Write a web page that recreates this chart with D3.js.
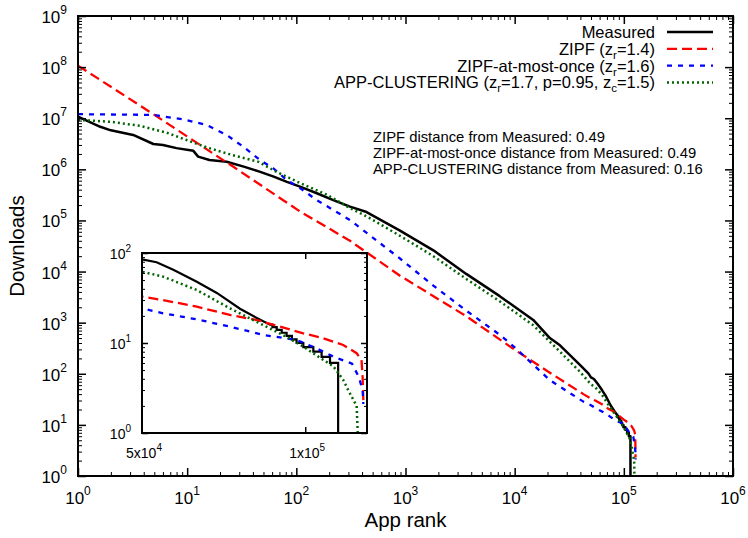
<!DOCTYPE html>
<html>
<head>
<meta charset="utf-8">
<script src="https://cdn.jsdelivr.net/npm/d3@7"></script>
<style>
  body { margin: 0; background: #fff; }
  svg text { font-family: "Liberation Sans", Arial, Helvetica, sans-serif; fill: #000; }
</style>
</head>
<body>
<svg id="chart" width="748" height="538"></svg>
<script>
// ---- data: [app rank, downloads] ----
const measured = [
  [1, 1.08e7], [1.6, 6.8e6], [2, 5.8e6], [3.2, 4.7e6], [4.9, 3.13e6], [6, 3.0e6],
  [8, 2.6e6], [11.4, 2.3e6], [12.6, 1.77e6], [16, 1.52e6], [23, 1.41e6], [33, 1.13e6],
  [46, 9.0e5], [62, 7.2e5], [82, 5.7e5], [108, 4.6e5], [154, 3.4e5], [218, 2.5e5],
  [310, 1.86e5], [440, 1.46e5], [890, 6.3e4], [1800, 2.6e4], [3600, 9.0e3], [7300, 3.3e3],
  [14800, 1130], [21000, 500], [26000, 360], [39600, 149], [47300, 102], [50000, 85],
  [53200, 79], [57100, 65], [63100, 48], [68700, 36], [75800, 24], [81400, 19], [86100, 16],
  [87000, 16], [87000, 15], [88600, 15], [88600, 14], [90500, 14], [90500, 13],
  [92400, 13], [92400, 12], [94500, 12], [94500, 11], [96400, 11], [96400, 10],
  [99200, 10], [99200, 9], [103500, 9], [103500, 8], [107200, 8], [107200, 7],
  [111100, 7], [111100, 6], [115000, 6], [115000, 1]
];
const zipf = [
  [1, 1.07e8], [4.9, 1.2e7], [26.5, 1.12e6], [108, 1.5e5], [310, 4.0e4], [890, 8.3e3],
  [3630, 1.32e3], [10000, 295], [21000, 105], [42600, 40], [50000, 32.7], [54700, 30],
  [63100, 25.3], [72600, 20.5], [81400, 18], [89800, 15.2], [99200, 12.8], [108000, 11.3],
  [117500, 9.5], [124400, 7.7], [127000, 6.5], [127600, 4.2], [128000, 2.3]
];
const zipfOnce = [
  [1, 1.2e7], [4.9, 1.16e7], [9.2, 9.5e6], [15, 7.4e6], [23, 4.7e6], [32.7, 2.77e6],
  [46.5, 1.52e6], [61.5, 1.05e6], [81.6, 6.2e5], [108, 4.3e5], [154, 2.5e5], [218, 1.6e5],
  [310, 1.02e5], [441, 5.7e4], [890, 1.8e4], [1800, 5.3e3], [3630, 1.7e3], [7340, 575],
  [10000, 330], [21000, 75], [42600, 28.5], [50000, 24.3], [54700, 21.4], [63100, 18.3],
  [72600, 15.2], [83700, 12.3], [96400, 10.8], [105000, 8.7], [113000, 7.0], [122000, 5.9],
  [125500, 4.2], [127600, 3.0], [128000, 2.1]
];
const appClustering = [
  [1, 9.3e6], [2, 8.5e6], [3.7, 7.1e6], [6.5, 5.2e6], [10, 3.7e6], [15, 2.7e6],
  [26, 1.9e6], [45, 1.4e6], [66, 8.9e5], [108, 5.4e5], [190, 3.2e5], [310, 1.74e5],
  [441, 1.2e5], [890, 5.0e4], [1800, 2.0e4], [3630, 7.1e3], [7340, 2.6e3], [14800, 890],
  [21000, 425], [39600, 110], [50000, 62], [54700, 54.6], [63100, 38.8], [72600, 24.3],
  [83700, 15.8], [92400, 11.7], [99200, 9.1], [106700, 6.8], [112700, 5.5], [117500, 3.9],
  [120000, 3.0], [124400, 2.0], [125000, 1]
];

const seriesNames = ["Measured", "ZIPF", "ZIPF-at-most-once", "APP-CLUSTERING"];
const seriesParams = [null, [["z", "r", "=1.4"]], [["z", "r", "=1.6"]],
  [["z", "r", "=1.7, p=0.95, "], ["z", "c", "=1.5"]]];
const distanceNames = ["ZIPF", "ZIPF-at-most-once", "APP-CLUSTERING"];
const distanceValues = ["0.49", "0.49", "0.16"];

const xTickExps = [0, 1, 2, 3, 4, 5, 6];
const yTickExps = [0, 1, 2, 3, 4, 5, 6, 7, 8, 9];
const insetXTicks = [[5e4, "5x10", "4"], [1e5, "1x10", "5"]];
const insetYTickExps = [0, 1, 2];

// ---- styles ----
const styles = [
  { color: "#000000", dash: null, width: 2.5 },
  { color: "#ff0000", dash: "10,5", width: 2.3 },
  { color: "#0000ff", dash: "5,6", width: 2.3 },
  { color: "#006400", dash: "2,3", width: 2.5 }
];
const allSeries = [measured, zipf, zipfOnce, appClustering];

const svg = d3.select("#chart");
const box = { left: 78, right: 733, top: 16, bottom: 476 };
const ibox = { left: 142, right: 367, top: 253, bottom: 433 };

const x = d3.scaleLog().domain([1, 1e6]).range([box.left, box.right]);
const y = d3.scaleLog().domain([1, 1e9]).range([box.bottom, box.top]);
const xi = d3.scaleLog().domain([5e4, 1.3e5]).range([ibox.left, ibox.right]);
const yi = d3.scaleLog().domain([1, 100]).range([ibox.bottom, ibox.top]);

const defs = svg.append("defs");
defs.append("clipPath").attr("id", "clipMain").append("rect")
  .attr("x", box.left).attr("y", box.top)
  .attr("width", box.right - box.left).attr("height", box.bottom - box.top);
defs.append("clipPath").attr("id", "clipInset").append("rect")
  .attr("x", ibox.left).attr("y", ibox.top)
  .attr("width", ibox.right - ibox.left).attr("height", ibox.bottom - ibox.top);

function minorValues(lo, hi) {
  const out = [];
  for (let e = Math.floor(Math.log10(lo)); e < Math.ceil(Math.log10(hi)); e++) {
    for (let k = 2; k <= 9; k++) {
      const v = k * Math.pow(10, e);
      if (v > lo && v < hi) out.push(v);
    }
  }
  return out;
}

// ticks pointing into the frame on all four sides
function drawTicks(g, xs, ys, b, xMajor, xMinor, yMajor, yMinor, majLen, minLen) {
  [[xMajor, majLen, 1.5], [xMinor, minLen, 1]].forEach(([vals, len, w]) => {
    g.append("g").attr("transform", `translate(0,${b.bottom})`)
      .call(d3.axisBottom(xs).tickValues(vals).tickSize(-len).tickFormat(""))
      .call(s => s.select(".domain").remove())
      .selectAll("line").attr("stroke-width", w);
    g.append("g").attr("transform", `translate(0,${b.top})`)
      .call(d3.axisTop(xs).tickValues(vals).tickSize(-len).tickFormat(""))
      .call(s => s.select(".domain").remove())
      .selectAll("line").attr("stroke-width", w);
  });
  [[yMajor, majLen, 1.5], [yMinor, minLen, 1]].forEach(([vals, len, w]) => {
    g.append("g").attr("transform", `translate(${b.left},0)`)
      .call(d3.axisLeft(ys).tickValues(vals).tickSize(-len).tickFormat(""))
      .call(s => s.select(".domain").remove())
      .selectAll("line").attr("stroke-width", w);
    g.append("g").attr("transform", `translate(${b.right},0)`)
      .call(d3.axisRight(ys).tickValues(vals).tickSize(-len).tickFormat(""))
      .call(s => s.select(".domain").remove())
      .selectAll("line").attr("stroke-width", w);
  });
}

function powerLabel(sel, base, exp, size, supSize, supRise) {
  sel.append("tspan").attr("font-size", size).text(base);
  sel.append("tspan").attr("font-size", supSize).attr("dy", -supRise).text(exp);
}

// ---- main plot ----
const main = svg.append("g");
const linesMain = main.append("g").attr("clip-path", "url(#clipMain)");
allSeries.forEach((data, i) => {
  const st = styles[i];
  linesMain.append("path")
    .datum(data)
    .attr("fill", "none")
    .attr("stroke", st.color)
    .attr("stroke-width", st.width)
    .attr("stroke-dasharray", st.dash)
    .attr("stroke-linejoin", "round")
    .attr("d", d3.line().x(d => x(d[0])).y(d => y(d[1])));
});

drawTicks(main, x, y, box,
  xTickExps.map(e => Math.pow(10, e)), minorValues(1, 1e6),
  yTickExps.map(e => Math.pow(10, e)), minorValues(1, 1e9), 8, 4);

main.append("rect")
  .attr("x", box.left).attr("y", box.top)
  .attr("width", box.right - box.left).attr("height", box.bottom - box.top)
  .attr("fill", "none").attr("stroke", "#000").attr("stroke-width", 2);

// tick labels
main.append("g").selectAll("text").data(xTickExps).join("text")
  .attr("x", e => x(Math.pow(10, e)))
  .attr("y", box.bottom + 28)
  .attr("text-anchor", "middle")
  .each(function (e) { powerLabel(d3.select(this), "10", e, 17, 12, 9); });

main.append("g").selectAll("text").data(yTickExps).join("text")
  .attr("x", box.left - 11)
  .attr("y", e => y(Math.pow(10, e)) + 7)
  .attr("text-anchor", "end")
  .each(function (e) { powerLabel(d3.select(this), "10", e, 17, 12, 9); });

// axis titles
main.append("text")
  .attr("x", (box.left + box.right) / 2).attr("y", 527)
  .attr("text-anchor", "middle").attr("font-size", 20.5).text("App rank");
main.append("text")
  .attr("transform", `translate(24,${(box.top + box.bottom) / 2}) rotate(-90)`)
  .attr("text-anchor", "middle").attr("font-size", 20.5).text("Downloads");

// legend
const legend = main.append("g");
seriesNames.forEach((name, i) => {
  const cy = 32 + i * 16.8;
  const t = legend.append("text")
    .attr("x", 655).attr("y", cy + 6)
    .attr("text-anchor", "end").attr("font-size", 16.5);
  if (!seriesParams[i]) {
    t.text(name);
  } else {
    t.append("tspan").text(name + " (");
    seriesParams[i].forEach(([sym, sub, rest]) => {
      t.append("tspan").text(sym);
      t.append("tspan").attr("font-size", 11.5).attr("dy", 4).text(sub);
      t.append("tspan").attr("dy", -4).text(rest);
    });
    t.append("tspan").text(")");
  }
  const st = styles[i];
  legend.append("line")
    .attr("x1", 667).attr("x2", 713).attr("y1", cy).attr("y2", cy)
    .attr("stroke", st.color).attr("stroke-width", st.width)
    .attr("stroke-dasharray", st.dash);
});

// distance annotations
main.append("g").selectAll("text").data(distanceNames).join("text")
  .attr("x", 373)
  .attr("y", (d, i) => 142 + i * 16)
  .attr("font-size", 14.8)
  .text((d, i) => `${d} distance from Measured: ${distanceValues[i]}`);

// ---- inset: tail of the rank distribution ----
const inset = svg.append("g");
inset.append("rect")
  .attr("x", ibox.left).attr("y", ibox.top)
  .attr("width", ibox.right - ibox.left).attr("height", ibox.bottom - ibox.top)
  .attr("fill", "#fff");

const linesInset = inset.append("g").attr("clip-path", "url(#clipInset)");
allSeries.forEach((data, i) => {
  const st = styles[i];
  const tail = data.filter((d, j) =>
    d[0] >= 4.5e4 || (data[j + 1] && data[j + 1][0] >= 4.5e4));
  linesInset.append("path")
    .datum(tail)
    .attr("fill", "none")
    .attr("stroke", st.color)
    .attr("stroke-width", i === 0 ? 2.2 : st.width)
    .attr("stroke-dasharray", st.dash)
    .attr("stroke-linejoin", "miter")
    .attr("d", d3.line().x(d => xi(d[0])).y(d => yi(d[1])));
});

drawTicks(inset, xi, yi, ibox,
  insetXTicks.filter(t => t[0] > 5e4).map(t => t[0]), [],
  insetYTickExps.map(e => Math.pow(10, e)), minorValues(1, 100), 6, 3);

inset.append("rect")
  .attr("x", ibox.left).attr("y", ibox.top)
  .attr("width", ibox.right - ibox.left).attr("height", ibox.bottom - ibox.top)
  .attr("fill", "none").attr("stroke", "#000").attr("stroke-width", 2);

inset.append("g").selectAll("text").data(insetXTicks).join("text")
  .attr("x", d => xi(d[0]) + 2)
  .attr("y", ibox.bottom + 25)
  .attr("text-anchor", "middle")
  .each(function (d) { powerLabel(d3.select(this), d[1], d[2], 14, 10, 7); });

inset.append("g").selectAll("text").data(insetYTickExps).join("text")
  .attr("x", ibox.left - 11)
  .attr("y", e => yi(Math.pow(10, e)) + 6)
  .attr("text-anchor", "end")
  .each(function (e) { powerLabel(d3.select(this), "10", e, 14, 10, 7); });
</script>
</body>
</html>
